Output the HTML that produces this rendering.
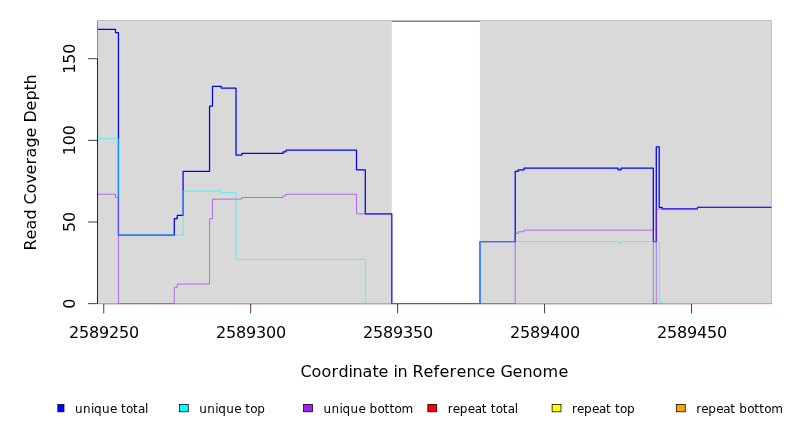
<!DOCTYPE html>
<html><head><meta charset="utf-8"><title>Read Coverage Depth</title>
<style>html,body{margin:0;padding:0;background:#fff;overflow:hidden}svg{display:block}text{font-family:"DejaVu Sans","Liberation Sans",sans-serif;fill:#000}</style></head><body>
<svg width="792" height="432" viewBox="0 0 792 432">
<rect x="0" y="0" width="792" height="432" fill="#fff"/>
<g shape-rendering="crispEdges">
<rect x="98" y="20" width="673" height="1" fill="#bcbcbc"/><rect x="771" y="20" width="1" height="1" fill="#dcdcdc"/><rect x="97" y="20" width="1" height="1" fill="#e4e4e4"/>
<rect x="97" y="21" width="1" height="283" fill="#8c8c8c"/>
<rect x="771" y="21" width="1" height="283" fill="#c0c0c0"/>
</g>
<rect x="391.77" y="21" width="88.17" height="1" fill="#808080"/>
<rect x="98" y="21.10" width="293.77" height="282.55" fill="#d9d9d9"/>
<rect x="479.94" y="21.10" width="291.06" height="282.55" fill="#d9d9d9"/>
<rect x="98" y="304" width="673.3" height="1" fill="#ffd8e4" fill-opacity="0.7"/>
<g fill="none" stroke="#000" stroke-width="0.75">
<path d="M103.75 303.65H691.55"/>
<path d="M103.75 303.65V313.35"/>
<path d="M250.70 303.65V313.35"/>
<path d="M397.65 303.65V313.35"/>
<path d="M544.60 303.65V313.35"/>
<path d="M691.55 303.65V313.35"/>
<path d="M97.50 303.65V58.71"/>
<path d="M97.50 303.65H88.00"/>
<path d="M97.50 222.00H88.00"/>
<path d="M97.50 140.36H88.00"/>
<path d="M97.50 58.71H88.00"/>
</g>
<defs><clipPath id="pc"><rect x="97" y="20" width="675" height="284"/></clipPath></defs>
<g fill="none" stroke-linejoin="round" stroke-linecap="butt" clip-path="url(#pc)">
<path d="M97.90 303.65H771.30" stroke="#ff0000" stroke-width="1"/>
<path d="M97.90 303.65H771.30" stroke="#ffff00" stroke-width="0.75"/>
<path d="M97.90 303.65H771.30" stroke="#ff9800" stroke-width="0.75"/>
<path d="M97.90 29.32H115.51V32.59H118.44V235.07H174.29V218.74H177.22V215.47H183.10V171.39H209.55V106.07H212.49V86.47H221.31V88.11H236.00V155.06H241.88V153.42H283.03V151.79H285.97V150.16H356.50V169.75H365.32V213.84H391.77V303.65H479.94V241.60H515.21V171.39H518.15V169.75H524.03V168.12H618.08V169.75H621.01V168.12H653.34V241.60H656.28V146.89H659.22V207.31H662.16V208.94H697.43V207.31H771.30" stroke="#0000ff" stroke-width="1.25"/>
<path d="M97.90 138.73H118.44V235.07H183.10V190.98H221.31V192.61H236.00V259.56H365.32V303.65H479.94V241.60H618.08V243.23H621.01V241.60H659.22V302.02H662.16V303.65H771.30" stroke="#00ffff" stroke-opacity="0.8" stroke-width="0.75"/>
<path d="M97.90 194.25H115.51V197.51H118.44V303.65H174.29V287.32H177.22V284.06H209.55V218.74H212.49V199.14H241.88V197.51H283.03V195.88H285.97V194.25H356.50V213.84H391.77V303.65H515.21V233.44H518.15V231.80H524.03V230.17H653.34V303.65H656.28V208.94H697.43V207.31H771.30" stroke="#a020f0" stroke-opacity="0.8" stroke-width="0.75"/>
</g>
<g font-size="16">
<text x="69.00 79.00 89.00 99.00 109.00 119.00 129.00" y="338">2589250</text>
<text x="216.00 226.00 236.00 246.00 256.00 266.00 276.00" y="338">2589300</text>
<text x="363.00 373.00 383.00 393.00 403.00 413.00 423.00" y="338">2589350</text>
<text x="510.00 520.00 530.00 540.00 550.00 560.00 570.00" y="338">2589400</text>
<text x="657.00 667.00 677.00 687.00 697.00 707.00 717.00" y="338">2589450</text>
<text transform="translate(75.25 303.65) rotate(-90)" x="-5.00" y="0">0</text>
<text transform="translate(75.25 222.00) rotate(-90)" x="-10.00 0.00" y="0">50</text>
<text transform="translate(75.25 140.36) rotate(-90)" x="-15.00 -5.00 5.00" y="0">100</text>
<text transform="translate(75.25 58.71) rotate(-90)" x="-15.00 -5.00 5.00" y="0">150</text>
<text x="300.50 311.50 321.50 331.50 338.50 348.50 352.50 362.50 372.50 378.50 388.50 393.50 397.50 407.50 412.50 423.50 433.50 439.50 449.50 456.50 466.50 476.50 485.50 495.50 500.50 512.50 522.50 532.50 542.50 558.50" y="377">Coordinate in Reference Genome</text>
<text transform="translate(35.6 162.4) rotate(-90)" x="-88.00 -77.00 -67.00 -57.00 -47.00 -42.00 -31.00 -21.00 -12.00 -2.00 5.00 15.00 25.00 35.00 40.00 52.00 62.00 72.00 78.00" y="0">Read Coverage Depth</text>
</g>
<defs><clipPath id="lc"><rect x="57.3" y="390" width="740" height="42"/></clipPath></defs>
<g clip-path="url(#lc)" stroke="#000" stroke-width="0.75">
<rect x="55.10" y="404.4" width="8.9" height="7.4" fill="#0000ff"/>
<rect x="179.35" y="404.4" width="8.9" height="7.4" fill="#00ffff"/>
<rect x="303.60" y="404.4" width="8.9" height="7.4" fill="#a020f0"/>
<rect x="427.85" y="404.4" width="8.9" height="7.4" fill="#ff0000"/>
<rect x="552.10" y="404.4" width="8.9" height="7.4" fill="#ffff00"/>
<rect x="676.35" y="404.4" width="8.9" height="7.4" fill="#ffa500"/>
</g>
<g font-size="12">
<text x="74.90 82.90 90.90 93.90 101.90 109.90 116.90 120.90 125.90 132.90 137.90 144.90" y="412.6">unique total</text>
<text x="199.15 207.15 215.15 218.15 226.15 234.15 241.15 245.15 250.15 257.15" y="412.6">unique top</text>
<text x="323.40 331.40 339.40 342.40 350.40 358.40 365.40 369.40 377.40 384.40 389.40 394.40 401.40" y="412.6">unique bottom</text>
<text x="447.65 452.65 459.65 467.65 474.65 481.65 486.65 490.65 495.65 502.65 507.65 514.65" y="412.6">repeat total</text>
<text x="571.90 576.90 583.90 591.90 598.90 605.90 610.90 614.90 619.90 626.90" y="412.6">repeat top</text>
<text x="696.15 701.15 708.15 716.15 723.15 730.15 735.15 739.15 747.15 754.15 759.15 764.15 771.15" y="412.6">repeat bottom</text>
</g>
</svg></body></html>
